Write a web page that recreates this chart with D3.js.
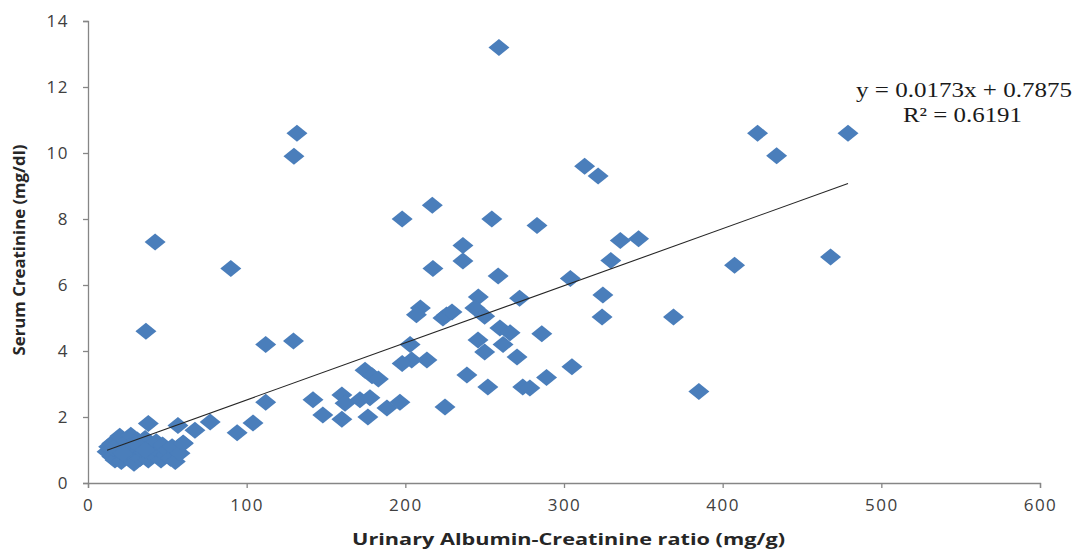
<!DOCTYPE html>
<html><head><meta charset="utf-8">
<script src="https://cdn.jsdelivr.net/npm/d3@7"></script>
<style>
html,body{margin:0;padding:0;background:#fff;}
svg{display:block;}
</style></head>
<body><svg id="chart" width="1079" height="551"></svg>
<script>
// Urinary Albumin-Creatinine ratio (mg/g)
const acr = [
  259,131.7,129.8,422,434,479,313,321.5,217,198,254.5,283,42.3,335.5,347,236.3,236.3,329.5,90,217.4,258.5,304,407.5,468,
  272,246,324.5,209.5,207,226,223.7,229.4,243.8,250,324,369,
  36.5,129.5,112,203,259.6,266,286,245.8,261.6,250,270.4,213.6,204,198,
  174.6,179,183,238.8,289,305,252,274,278.5,385,
  141.8,160,162,171.4,177.7,148,160,176.4,188.4,196.6,225,112,
  104,77,94,67.4,56.7,60,
  12,13,15,15,17,18,19,20,21,22,23,24,25,26,27,28,29,30,31,33,34,35,36,38,38,40,41,43,45,46,47,49,50,52,53,55,58,60,16,22,30,36
];
// Serum Creatinine (mg/dl)
const creat = [
  13.2,10.6,9.9,10.6,9.92,10.6,9.6,9.3,8.42,8.0,8.0,7.8,7.3,7.35,7.4,7.2,6.73,6.74,6.5,6.5,6.27,6.2,6.6,6.85,
  5.6,5.64,5.7,5.3,5.1,5.09,5.0,5.18,5.3,5.05,5.03,5.03,
  4.6,4.3,4.2,4.2,4.7,4.55,4.52,4.33,4.2,3.97,3.82,3.73,3.73,3.62,
  3.42,3.25,3.15,3.27,3.2,3.52,2.91,2.91,2.88,2.77,
  2.52,2.67,2.42,2.52,2.58,2.06,1.93,2.0,2.27,2.45,2.3,2.45,
  1.82,1.85,1.52,1.6,1.74,1.21,
  0.95,1.1,0.8,1.2,0.7,1.3,0.95,1.42,0.65,1.1,0.85,1.25,1.0,0.75,1.45,1.1,0.6,0.9,1.3,0.75,1.15,0.95,1.35,0.7,1.8,1.05,0.85,1.25,0.95,0.7,1.15,0.85,1.0,0.75,1.1,0.65,0.9,1.2,1.05,0.9,1.2,1.0
];
const xTicks = [0,100,200,300,400,500,600];
const yTicks = [0,2,4,6,8,10,12,14];
const slope = 0.0173, intercept = 0.7875;
const eqLabels = ["y = 0.0173x + 0.7875", "R² = 0.6191"];
const xTitle = "Urinary Albumin-Creatinine ratio (mg/g)";
const yTitle = "Serum Creatinine (mg/dl)";

const svg = d3.select("#chart");
const x = d3.scaleLinear().domain([0,600]).range([88,1040]);
const y = d3.scaleLinear().domain([0,14]).range([483,21]);
const axisColor = "#868686";
const tickFont = "'Open Sans', 'Liberation Sans', sans-serif";

// axes
const gx = svg.append("g").attr("transform","translate(0,483)")
  .call(d3.axisBottom(x).tickValues(xTicks).tickSize(5).tickPadding(11).tickFormat(d3.format("d")));
const gy = svg.append("g").attr("transform","translate(88,0)")
  .call(d3.axisLeft(y).tickValues(yTicks).tickSize(5).tickPadding(14).tickFormat(d3.format("d")));
[gx,gy].forEach(g=>{
  g.select(".domain").attr("stroke",axisColor).attr("stroke-width",1.3);
  g.selectAll(".tick line").attr("stroke",axisColor).attr("stroke-width",1.3);
  g.selectAll(".tick text").attr("fill","#404040").style("font-family",tickFont)
    .style("font-size","17px").style("letter-spacing","1.5px");
});

// points
const data = acr.map((v,i)=>({x:v,y:creat[i]}));
const diamond = "M0,-8.5L10.5,0L0,8.5L-10.5,0Z";
svg.append("g").selectAll("path").data(data).join("path")
  .attr("d",diamond)
  .attr("transform",d=>`translate(${x(d.x)},${y(d.y)})`)
  .attr("fill","#4a7ebb");

// trend line
const xr = d3.extent(acr);
svg.append("line")
  .attr("x1",x(xr[0])).attr("y1",y(slope*xr[0]+intercept))
  .attr("x2",x(xr[1])).attr("y2",y(slope*xr[1]+intercept))
  .attr("stroke","#262626").attr("stroke-width",1.1);

// equation
const eqLen = [216, 119];
svg.append("g").selectAll("text").data(eqLabels).join("text")
  .attr("x",(d,i)=>i===0?856:903).attr("y",(d,i)=>97+i*25)
  .attr("textLength",(d,i)=>eqLen[i]).attr("lengthAdjust","spacingAndGlyphs")
  .style("font-family","'Liberation Serif', 'Times New Roman', serif")
  .style("font-size","20.5px").attr("fill","#1a1a1a")
  .text(d=>d);

// titles
svg.append("text").attr("x",352).attr("y",545)
  .attr("textLength",433).attr("lengthAdjust","spacingAndGlyphs")
  .style("font-family",tickFont).style("font-weight","bold").style("font-size","16.8px").attr("fill","#262626")
  .text(xTitle);
svg.append("text").attr("transform","translate(25,250) rotate(-90)").attr("text-anchor","middle")
  .style("font-family",tickFont).style("font-weight","bold").style("font-size","16.8px").attr("fill","#262626")
  .text(yTitle);
</script></body></html>
